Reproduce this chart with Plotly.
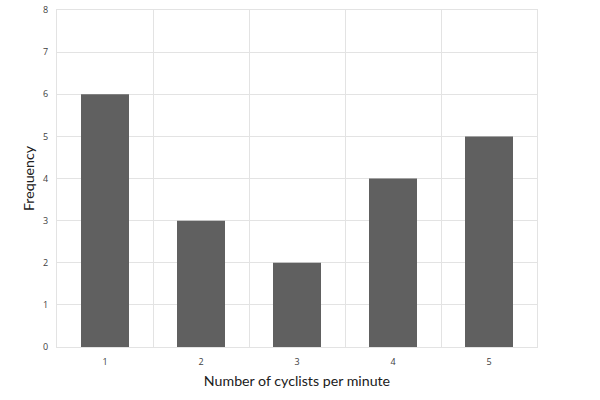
import plotly.graph_objects as go

cyclists = ["1", "2", "3", "4", "5"]
frequency = [6, 3, 2, 4, 5]
y_ticks = [0, 1, 2, 3, 4, 5, 6, 7, 8]

grid = "#e3e3e3"

fig = go.Figure()
fig.add_trace(go.Bar(
    x=cyclists,
    y=frequency,
    width=0.5,
    marker=dict(color="#606060", line=dict(width=0)),
))

fig.update_layout(
    width=600,
    height=400,
    paper_bgcolor="white",
    plot_bgcolor="white",
    margin=dict(l=57, r=63, t=10, b=53, autoexpand=False),
    showlegend=False,
    font=dict(family="Open Sans, sans-serif", color="#404040"),
)

fig.update_xaxes(
    type="category",
    automargin=False,
    tickson="boundaries",
    ticks="",
    showgrid=True,
    gridcolor=grid,
    showline=True,
    linecolor=grid,
    mirror=True,
    ticklabelstandoff=6,
    tickfont=dict(size=9, color="#404040"),
    title=dict(text="Number of cyclists per minute",
               font=dict(family="Lato, sans-serif", size=14.2, color="#202020"), standoff=9),
)

fig.update_yaxes(
    range=[0, 8],
    automargin=False,
    tickvals=y_ticks,
    showgrid=True,
    gridcolor=grid,
    zeroline=False,
    showline=True,
    linecolor=grid,
    mirror=True,
    tickfont=dict(size=9, color="#404040"),
    ticklabelstandoff=6,
    title=dict(text="Frequency",
               font=dict(family="Lato, sans-serif", size=14.2, color="#202020"), standoff=5),
)

# drop the default 8px body margin so the chart sits at the page corner
fig.write_html("out.html", config={"displayModeBar": False},
               post_script="document.body.style.margin = '0';")
